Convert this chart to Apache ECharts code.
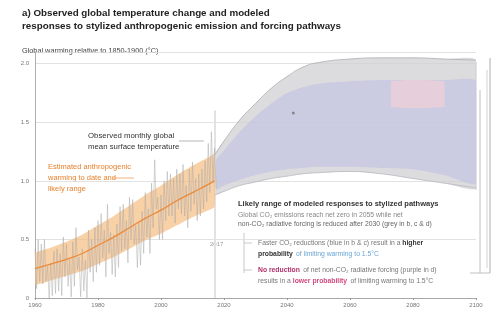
<!DOCTYPE html>
<html>
<head>
<meta charset="utf-8">
<script src="https://cdn.jsdelivr.net/npm/echarts@6/dist/echarts.min.js"></script>
<style>
  html, body { margin: 0; padding: 0; background: #fff; }
  #chart { width: 500px; height: 315px; }
</style>
</head>
<body>
<div id="chart"></div>
<script>
const FONT = '"Liberation Sans Narrow", "Liberation Sans", sans-serif'

// x ticks / y ticks
const xTicks = [1960, 1980, 2000, 2020, 2040, 2060, 2080, 2100]
const yTicks = [0, 0.5, 1.0, 1.5, 2.0]
const yTickLabels = ['0', '0.5', '1.0', '1.5', '2.0']

// observed monthly global mean surface temperature (yearly high / low swings)
const obsYears = [1960, 1961, 1962, 1963, 1964, 1965, 1966, 1967, 1968, 1969,
  1970, 1971, 1972, 1973, 1974, 1975, 1976, 1977, 1978, 1979,
  1980, 1981, 1982, 1983, 1984, 1985, 1986, 1987, 1988, 1989,
  1990, 1991, 1992, 1993, 1994, 1995, 1996, 1997, 1998, 1999,
  2000, 2001, 2002, 2003, 2004, 2005, 2006, 2007, 2008, 2009,
  2010, 2011, 2012, 2013, 2014, 2015, 2016, 2017]
const obsHigh = [0.42, 0.50, 0.46, 0.50, 0.27, 0.30, 0.40, 0.42, 0.38, 0.52,
  0.46, 0.33, 0.48, 0.60, 0.35, 0.42, 0.32, 0.58, 0.50, 0.60,
  0.66, 0.72, 0.58, 0.80, 0.56, 0.54, 0.63, 0.78, 0.80, 0.66,
  0.86, 0.84, 0.62, 0.64, 0.74, 0.90, 0.76, 0.98, 1.18, 0.86,
  0.88, 1.00, 1.08, 1.06, 1.02, 1.10, 1.06, 1.14, 0.96, 1.10,
  1.16, 1.02, 1.06, 1.10, 1.17, 1.32, 1.42, 1.28]
const obsLow = [0.08, 0.14, 0.12, 0.14, 0.00, 0.02, 0.04, 0.06, 0.02, 0.18,
  0.10, 0.01, 0.10, 0.24, 0.01, 0.06, 0.00, 0.22, 0.14, 0.22,
  0.28, 0.34, 0.18, 0.38, 0.20, 0.18, 0.26, 0.40, 0.42, 0.30,
  0.50, 0.46, 0.26, 0.28, 0.38, 0.52, 0.38, 0.60, 0.76, 0.50,
  0.50, 0.66, 0.70, 0.70, 0.64, 0.76, 0.72, 0.70, 0.60, 0.74,
  0.80, 0.66, 0.70, 0.76, 0.82, 0.90, 1.00, 0.94]

// estimated anthropogenic warming to date and likely range
const warmYears = [1960, 1965, 1970, 1975, 1980, 1985, 1990, 1995, 2000, 2005, 2010, 2015, 2017]
const warmMid = [0.25, 0.29, 0.33, 0.38, 0.45, 0.52, 0.60, 0.68, 0.75, 0.83, 0.90, 0.97, 1.00]
const warmLow = [0.12, 0.15, 0.19, 0.23, 0.29, 0.35, 0.42, 0.49, 0.55, 0.62, 0.69, 0.75, 0.78]
const warmHigh = [0.38, 0.43, 0.48, 0.54, 0.62, 0.70, 0.79, 0.88, 0.96, 1.05, 1.13, 1.20, 1.23]

// likely range of modeled responses (plumes)
const plumeYears = [2017, 2020, 2025, 2030, 2035, 2040, 2045, 2050, 2060, 2070, 2080, 2090, 2100]
const greyLow = [0.88, 0.91, 0.96, 0.99, 1.02, 1.04, 1.06, 1.07, 1.08, 1.06, 1.02, 0.98, 0.94]
const greyHigh = [1.22, 1.34, 1.52, 1.66, 1.79, 1.89, 1.97, 2.01, 2.04, 2.05, 2.05, 2.04, 2.03]
const blueLow = [0.92, 0.96, 1.01, 1.05, 1.08, 1.10, 1.11, 1.12, 1.12, 1.11, 1.10, 1.05, 0.98]
const blueHigh = [1.16, 1.26, 1.42, 1.55, 1.66, 1.75, 1.80, 1.83, 1.85, 1.86, 1.86, 1.86, 1.85]
const purpleYears = [2073, 2078, 2084, 2090]
const purpleLow = [1.63, 1.62, 1.62, 1.63]
const purpleHigh = [1.85, 1.86, 1.86, 1.85]
const markerPoint = [2042, 1.58]

const chart = echarts.init(document.getElementById('chart'))

// zig-zag the yearly swings to get the monthly spikes look
const obsLine = []
obsYears.forEach((y, i) => {
  obsLine.push([y, obsHigh[i]])
  obsLine.push([y + 0.5, obsLow[i]])
})

function bandSeries(name, xs, lo, hi, color, z, smooth) {
  const data = xs.map((x, i) => [x, lo[i], hi[i]])
  return {
    type: 'custom',
    name: name,
    z: z,
    silent: true,
    clip: true,
    encode: { x: 0, y: [1, 2] },
    data: data,
    renderItem: (params, api) => {
      if (params.dataIndex !== 0) return
      const top = data.map(d => api.coord([d[0], d[2]]))
      const bot = data.map(d => api.coord([d[0], d[1]])).reverse()
      return {
        type: 'polygon',
        shape: { points: top.concat(bot), smooth: smooth },
        style: { fill: color }
      }
    }
  }
}

function edgeLine(xs, ys, color, z) {
  return {
    type: 'line',
    z: z,
    silent: true,
    smooth: true,
    symbol: 'none',
    lineStyle: { color: color, width: 0.8 },
    data: xs.map((x, i) => [x, ys[i]])
  }
}

function txt(x, y, text, style) {
  return {
    type: 'text',
    x: x, y: y,
    style: Object.assign({
      text: text,
      font: '7px ' + FONT,
      fill: '#444',
      verticalAlign: 'middle'
    }, style || {})
  }
}

const option = {
  animation: false,
  backgroundColor: '#fff',
  grid: { left: 35, right: 24, top: 52, bottom: 17 },
  xAxis: {
    type: 'value',
    min: 1960,
    max: 2100,
    interval: 20,
    axisLine: { lineStyle: { color: '#999', width: 0.8 } },
    axisTick: { show: true, length: 2, lineStyle: { color: '#999' } },
    axisLabel: {
      color: '#777', fontSize: 6, fontFamily: FONT, margin: 4,
      formatter: v => (xTicks.indexOf(v) >= 0 ? String(v) : '')
    },
    splitLine: { show: false }
  },
  yAxis: {
    type: 'value',
    min: 0,
    max: 2.1,
    interval: 0.5,
    axisLine: { show: true, lineStyle: { color: '#999', width: 0.8 } },
    axisTick: { show: false },
    axisLabel: {
      color: '#777', fontSize: 6, fontFamily: FONT, margin: 6,
      formatter: v => {
        const i = yTicks.findIndex(t => Math.abs(t - v) < 1e-6)
        return i >= 0 ? yTickLabels[i] : ''
      }
    },
    splitLine: { show: true, lineStyle: { color: '#dadada', width: 0.8 } }
  },
  series: [
    bandSeries('grey plume', plumeYears, greyLow, greyHigh, 'rgba(208,208,212,0.75)', 2, 0.2),
    bandSeries('blue plume', plumeYears, blueLow, blueHigh, 'rgba(192,192,226,0.6)', 3, 0.2),
    bandSeries('purple plume', purpleYears, purpleLow, purpleHigh, 'rgba(236,208,216,0.8)', 4, 0),
    edgeLine(plumeYears, greyHigh, '#ababaf', 5),
    edgeLine(plumeYears, greyLow, '#b8b8bc', 5),
    bandSeries('likely range', warmYears, warmLow, warmHigh, 'rgba(246,190,130,0.7)', 6, 0.2),
    {
      type: 'line',
      name: 'observed',
      z: 7,
      silent: true,
      symbol: 'none',
      lineStyle: { color: '#aaaaaa', width: 0.5 },
      data: obsLine,
      markLine: {
        silent: true,
        symbol: 'none',
        label: { show: false },
        lineStyle: { color: '#e2e2e2', width: 2, type: 'solid' },
        data: [[{ coord: [2017, 0] }, { coord: [2017, 1.6] }]]
      }
    },
    {
      type: 'line',
      name: 'anthropogenic',
      z: 8,
      silent: true,
      smooth: true,
      symbol: 'none',
      lineStyle: { color: '#ec8a3a', width: 1.3 },
      data: warmYears.map((x, i) => [x, warmMid[i]])
    },
    {
      type: 'scatter',
      z: 9,
      silent: true,
      symbol: 'circle',
      symbolSize: 3,
      itemStyle: { color: '#777' },
      data: [markerPoint]
    }
  ],
  graphic: [
    txt(22, 13, 'a) Observed global temperature change and modeled', { font: 'bold 9.8px ' + FONT, fill: '#222' }),
    txt(22, 26, 'responses to stylized anthropogenic emission and forcing pathways', { font: 'bold 9.8px ' + FONT, fill: '#222' }),
    txt(22, 51, 'Global warming relative to 1850-1900 (°C)', { font: '7.3px ' + FONT, fill: '#444' }),

    txt(88, 136, 'Observed monthly global', { font: '7.8px ' + FONT, fill: '#333' }),
    txt(88, 147, 'mean surface temperature', { font: '7.8px ' + FONT, fill: '#333' }),
    { type: 'line', shape: { x1: 179, y1: 141, x2: 204, y2: 141 }, style: { stroke: '#888', lineWidth: 0.6 } },

    txt(48, 167, 'Estimated anthropogenic', { font: '7.5px ' + FONT, fill: '#e8822e' }),
    txt(48, 178, 'warming to date and', { font: '7.5px ' + FONT, fill: '#e8822e' }),
    txt(48, 189, 'likely range', { font: '7.5px ' + FONT, fill: '#e8822e' }),
    { type: 'line', shape: { x1: 113, y1: 178, x2: 134, y2: 178 }, style: { stroke: '#e8822e', lineWidth: 0.6 } },

    txt(210, 244, '2017', { font: '6px ' + FONT, fill: '#999' }),

    txt(238, 204, 'Likely range of modeled responses to stylized pathways', { font: 'bold 7.5px ' + FONT, fill: '#333' }),
    txt(238, 215, 'Global CO\u2082 emissions reach net zero in 2055 while net', { font: '6.8px ' + FONT, fill: '#888' }),
    txt(238, 224, 'non-CO\u2082 radiative forcing is reduced after 2030 (grey in b, c & d)', { font: '6.8px ' + FONT, fill: '#666' }),
    { type: 'line', shape: { x1: 244, y1: 233, x2: 244, y2: 273 }, style: { stroke: '#bbb', lineWidth: 0.8 } },
    { type: 'line', shape: { x1: 244, y1: 243, x2: 252, y2: 243 }, style: { stroke: '#bbb', lineWidth: 0.8 } },
    { type: 'line', shape: { x1: 244, y1: 270, x2: 252, y2: 270 }, style: { stroke: '#bbb', lineWidth: 0.8 } },
    {
      type: 'text', x: 258, y: 243,
      style: {
        text: '{n|Faster CO\u2082 reductions (blue in b & c) result in a }{b|higher}',
        verticalAlign: 'middle',
        rich: {
          n: { font: '6.8px ' + FONT, fill: '#777' },
          b: { font: 'bold 6.8px ' + FONT, fill: '#333' }
        }
      }
    },
    {
      type: 'text', x: 258, y: 254,
      style: {
        text: '{b|probability} {c|of limiting warming to 1.5°C}',
        verticalAlign: 'middle',
        rich: {
          b: { font: 'bold 6.8px ' + FONT, fill: '#333' },
          c: { font: '6.8px ' + FONT, fill: '#6aa6d6' }
        }
      }
    },
    {
      type: 'text', x: 258, y: 270,
      style: {
        text: '{p|No reduction} {n|of net non-CO\u2082 radiative forcing (purple in d)}',
        verticalAlign: 'middle',
        rich: {
          p: { font: 'bold 6.8px ' + FONT, fill: '#b0306a' },
          n: { font: '6.8px ' + FONT, fill: '#777' }
        }
      }
    },
    {
      type: 'text', x: 258, y: 281,
      style: {
        text: '{n|results in a }{p|lower probability} {n|of limiting warming to 1.5°C}',
        verticalAlign: 'middle',
        rich: {
          p: { font: 'bold 6.8px ' + FONT, fill: '#d04a80' },
          n: { font: '6.8px ' + FONT, fill: '#777' }
        }
      }
    },

    // range bars on the right edge
    { type: 'line', shape: { x1: 476, y1: 62, x2: 476, y2: 190 }, style: { stroke: '#c8c8c8', lineWidth: 1 } },
    { type: 'line', shape: { x1: 480, y1: 90, x2: 480, y2: 273 }, style: { stroke: '#b0b0b0', lineWidth: 0.8 } },
    { type: 'line', shape: { x1: 487, y1: 70, x2: 487, y2: 268 }, style: { stroke: '#c8c8c8', lineWidth: 0.8 } },
    { type: 'line', shape: { x1: 490, y1: 58, x2: 490, y2: 273 }, style: { stroke: '#999', lineWidth: 0.8 } },
    { type: 'line', shape: { x1: 470, y1: 273, x2: 490, y2: 273 }, style: { stroke: '#b0b0b0', lineWidth: 0.8 } }
  ]
}

chart.setOption(option)
</script>
</body>
</html>
